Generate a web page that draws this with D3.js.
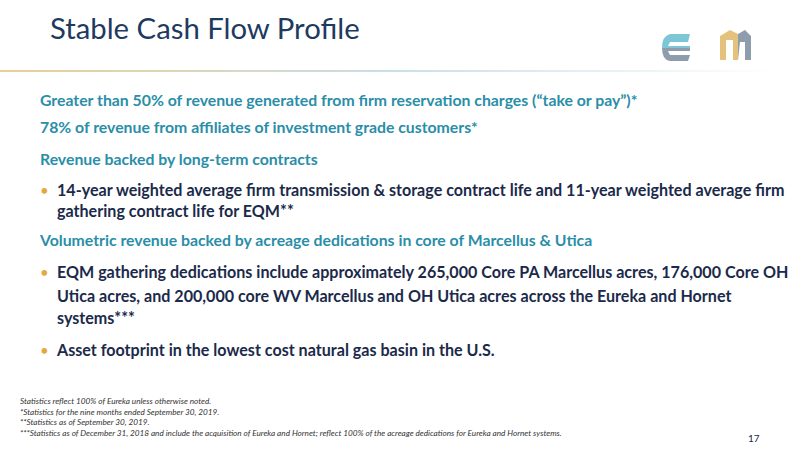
<!DOCTYPE html><html><head><meta charset="utf-8">
<script src="https://cdn.jsdelivr.net/npm/d3@7"></script>
<style>body{margin:0;background:#fff}text{font-family:Lato,sans-serif}</style></head><body>
<svg id="s" width="800" height="450"></svg>
<script>
const title = "Stable Cash Flow Profile";
const kinds = ["h","h","h","b","c","h","b","c","c","b"];
const lines = [
 "Greater than 50% of revenue generated from firm reservation charges (“take or pay”)*",
 "78% of revenue from affiliates of investment grade customers*",
 "Revenue backed by long-term contracts",
 "14-year weighted average firm transmission & storage contract life and 11-year weighted average firm",
 "gathering contract life for EQM**",
 "Volumetric revenue backed by acreage dedications in core of Marcellus & Utica",
 "EQM gathering dedications include approximately 265,000 Core PA Marcellus acres, 176,000 Core OH",
 "Utica acres, and 200,000 core WV Marcellus and OH Utica acres across the Eureka and Hornet",
 "systems***",
 "Asset footprint in the lowest cost natural gas basin in the U.S."];
const baselines = [106,133,165,196,217,246,278,302,324,356];
const notes = ["Statistics reflect 100% of Eureka unless otherwise noted.",
 "*Statistics for the nine months ended September 30, 2019.",
 "**Statistics as of September 30, 2019.",
 "***Statistics as of December 31, 2018 and include the acquisition of Eureka and Hornet; reflect 100% of the acreage dedications for Eureka and Hornet systems."];
const svg = d3.select("#s");
const defs = svg.append("defs");
const g = defs.append("linearGradient").attr("id","gr");
g.append("stop").attr("offset","0").attr("stop-color","#e8cf95");
g.append("stop").attr("offset","0.5").attr("stop-color","#c9dfe6");
g.append("stop").attr("offset","1").attr("stop-color","#ffffff");
svg.append("rect").attr("x",0).attr("y",70).attr("width",780).attr("height",2).attr("fill","url(#gr)");
svg.append("text").attr("x",50).attr("y",39).attr("font-size",29.3).attr("fill","#1f3a5f").text(title);
// logos
svg.append("path").attr("d","M670,34 L690,34 L688,42 L670,42 L668,46 L690,46 L690,48 L662,48 Q662,36 670,34 Z").attr("fill","#7cc6d6");
svg.append("path").attr("d","M662,48 L690,48 L690,51 L668,51 L670,55 L690,55 L688,61 L670,61 Q662,60 662,48 Z").attr("fill","#8e9dab");
svg.append("path").attr("d","M720,60 L720,36 L730,30 L738,34 L738,60 L733,60 L733,40 L726,40 L726,60 Z").attr("fill","#e4c27d");
svg.append("path").attr("d","M738,34 L745,30 L751,36 L751,60 L745,60 L745,42 L740,42 L738,60 Z").attr("fill","#8e9dab");
const x0 = 40, xb = 57;
svg.selectAll("text.l").data(lines).join("text").attr("class","l")
 .attr("x",(d,i)=>kinds[i]==="h"?x0:xb).attr("y",(d,i)=>baselines[i])
 .attr("font-size",(d,i)=>kinds[i]==="h"?15.8:16.1).attr("font-weight","bold")
 .attr("fill",(d,i)=>kinds[i]==="h"?"#2a8ea8":"#1b2a4a").text(d=>d);
svg.selectAll("text.bu").data(lines.filter((d,i)=>kinds[i]==="b")).join("text").attr("class","bu")
 .attr("x",x0).attr("y",(d,i)=>baselines[lines.indexOf(d)]).attr("font-size",15).attr("fill","#e3a93b").text("•");
svg.selectAll("text.n").data(notes).join("text").attr("class","n")
 .attr("x",20).attr("y",(d,i)=>404+i*10.5).attr("font-size",8.2).attr("font-style","italic").attr("fill","#333").text(d=>d);
svg.append("text").attr("x",748).attr("y",442).attr("font-size",10).attr("fill","#1b2a4a").text("17");
</script></body></html>
